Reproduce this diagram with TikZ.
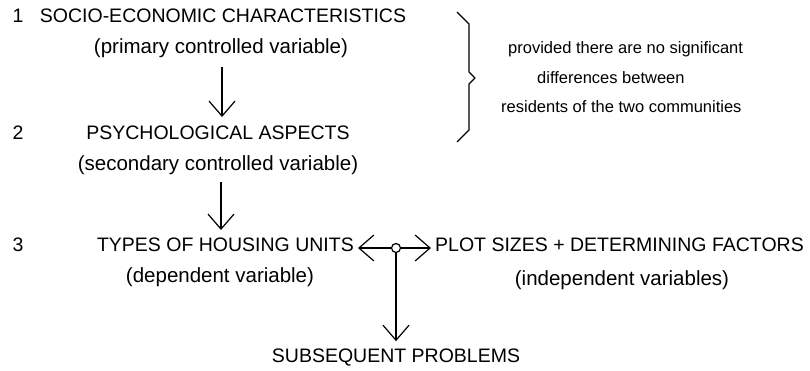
\documentclass[tikz,border=0pt]{standalone}
\usepackage{fontspec}
\setmainfont{Liberation Sans}
\usetikzlibrary{arrows.meta}
\begin{document}
\begin{tikzpicture}[x=1pt,y=-1pt,
  captxt/.style={inner sep=0pt,font=\fontsize{19.5}{22}\selectfont},
  subtxt/.style={inner sep=0pt,font=\fontsize{20.5}{24}\selectfont},
  notetxt/.style={inner sep=0pt,anchor=west,font=\fontsize{16.5}{19}\selectfont},
  conn/.style={line width=1.2pt},
  vee/.style={-{Straight Barb[length=15pt,width=26pt,line width=1.2pt]}}]
\fill[white] (0,0) rectangle (810,370);
\useasboundingbox (0,0) rectangle (810,370);
% row 1
\node[captxt] (n1) at (18,16) {1};
\node[captxt] (t1) at (223,16) {SOCIO-ECONOMIC CHARACTERISTICS};
\node[subtxt] (s1) at (221,48) {(primary controlled variable)};
% row 2
\node[captxt] (n2) at (18,133) {2};
\node[captxt] (t2) at (218,133) {PSYCHOLOGICAL ASPECTS};
\node[subtxt] (s2) at (218,165) {(secondary controlled variable)};
% row 3
\node[captxt] (n3) at (18,245) {3};
\node[captxt,anchor=east] (t3) at (354,245) {TYPES OF HOUSING UNITS};
\node[captxt,anchor=west] (p3) at (435,245) {PLOT SIZES + DETERMINING FACTORS};
\node[subtxt] (s3) at (220,277) {(dependent variable)};
\node[subtxt] (q3) at (622,280) {(independent variables)};
\node[captxt] (sp) at (396,358) {SUBSEQUENT PROBLEMS};
% junction
\node[circle,draw,line width=1.2pt,minimum size=9pt,inner sep=0pt] (j) at (396,248) {};
\coordinate (a1s) at (222,67);
\coordinate (a1e) at (222,117);
\coordinate (a2s) at (221,182);
\coordinate (a2e) at (221,230);
\draw[conn,vee] (a1s) -- (a1e);
\draw[conn,vee] (a2s) -- (a2e);
\draw[conn,vee,shorten >=4pt] (j.west) -- (j.west -| t3.east);
\draw[conn,vee,shorten >=4pt] (j.east) -- (j.east -| p3.west);
\draw[conn,vee,shorten >=8pt] (j.south) -- (j.south |- sp.north);
% brace
\draw[conn,line join=round] (457,12) -- (469,24) -- (469,72) -- (475,78) -- (469,84) -- (469,130) -- (457,142);
\node[notetxt] (b1) at (508,49) {provided there are no significant};
\node[notetxt] (b2) at (537,78) {differences between};
\node[notetxt] (b3) at (501,107) {residents of the two communities};
\end{tikzpicture}
\end{document}
